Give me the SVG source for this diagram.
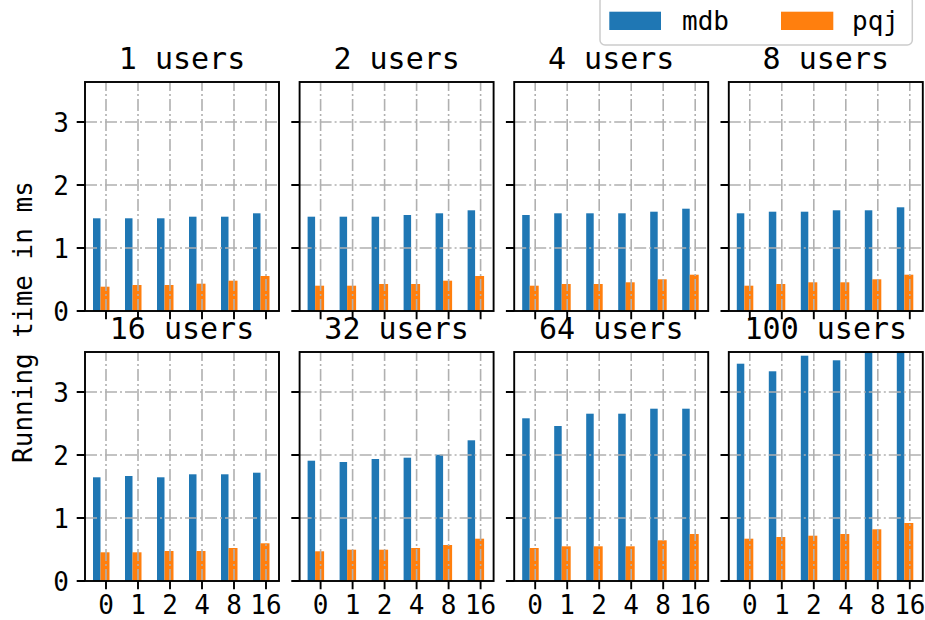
<svg xmlns="http://www.w3.org/2000/svg" width="925" height="620" viewBox="0 0 925 620">
<style>
text{font-family:"DejaVu Sans Mono",monospace;fill:#000}
.title{font-size:30px;text-anchor:middle}
.tl{font-size:26px}
.yl{text-anchor:end}
.xl{text-anchor:middle}
.bg{fill:#fff}
.mdb{fill:#1f77b4}
.pqj{fill:#ff7f0e}
.grid{fill:none;stroke:#b0b0b0;stroke-width:1.6;stroke-dasharray:12 3 2 3}
.frame{fill:none;stroke:#000;stroke-width:1.9}
.tick{fill:none;stroke:#000;stroke-width:1.9}
</style>
<rect width="925" height="620" fill="#fff"/>

<!-- 1 users -->
<g id="plot-1-users" transform="translate(85,82)">
<text class="title" x="97" y="-13.5">1 users</text>
<rect class="bg" width="194" height="229"/>
<rect class="mdb" x="8" y="136.3" width="7.5" height="92.7"/>
<rect class="mdb" x="40" y="136.3" width="7.5" height="92.7"/>
<rect class="mdb" x="72" y="136.3" width="7.5" height="92.7"/>
<rect class="mdb" x="104" y="134.7" width="7.5" height="94.3"/>
<rect class="mdb" x="136" y="134.7" width="7.5" height="94.3"/>
<rect class="mdb" x="168" y="131.3" width="7.5" height="97.7"/>
<rect class="pqj" x="15.5" y="204.7" width="9" height="24.3"/>
<rect class="pqj" x="47.5" y="203" width="9" height="26"/>
<rect class="pqj" x="79.5" y="203" width="9" height="26"/>
<rect class="pqj" x="111.5" y="201.7" width="9" height="27.3"/>
<rect class="pqj" x="143.5" y="198.7" width="9" height="30.3"/>
<rect class="pqj" x="175.5" y="194" width="9" height="35"/>
<path class="grid" d="M0 166H194M0 103H194M0 40H194M21 229V0M53 229V0M85 229V0M117 229V0M149 229V0M181 229V0"/>
<rect class="frame" width="194" height="229"/>
<path class="tick" d="M21 229v8.3M53 229v8.3M85 229v8.3M117 229v8.3M149 229v8.3M181 229v8.3M0 229h-8.3M0 166h-8.3M0 103h-8.3M0 40h-8.3"/>
<g class="tl yl">
<text x="-16" y="238.8">0</text>
<text x="-16" y="175.8">1</text>
<text x="-16" y="112.8">2</text>
<text x="-16" y="49.8">3</text>
</g>
</g>

<!-- 2 users -->
<g id="plot-2-users" transform="translate(299.6,82)">
<text class="title" x="97" y="-13.5">2 users</text>
<rect class="bg" width="194" height="229"/>
<rect class="mdb" x="8" y="134.7" width="7.5" height="94.3"/>
<rect class="mdb" x="40" y="134.7" width="7.5" height="94.3"/>
<rect class="mdb" x="72" y="134.7" width="7.5" height="94.3"/>
<rect class="mdb" x="104" y="133" width="7.5" height="96"/>
<rect class="mdb" x="136" y="131.3" width="7.5" height="97.7"/>
<rect class="mdb" x="168" y="128.3" width="7.5" height="100.7"/>
<rect class="pqj" x="15.5" y="203.7" width="9" height="25.3"/>
<rect class="pqj" x="47.5" y="203.7" width="9" height="25.3"/>
<rect class="pqj" x="79.5" y="202" width="9" height="27"/>
<rect class="pqj" x="111.5" y="202" width="9" height="27"/>
<rect class="pqj" x="143.5" y="198.7" width="9" height="30.3"/>
<rect class="pqj" x="175.5" y="194" width="9" height="35"/>
<path class="grid" d="M0 166H194M0 103H194M0 40H194M21 229V0M53 229V0M85 229V0M117 229V0M149 229V0M181 229V0"/>
<rect class="frame" width="194" height="229"/>
<path class="tick" d="M21 229v8.3M53 229v8.3M85 229v8.3M117 229v8.3M149 229v8.3M181 229v8.3M0 229h-8.3M0 166h-8.3M0 103h-8.3M0 40h-8.3"/>
</g>

<!-- 4 users -->
<g id="plot-4-users" transform="translate(514.2,82)">
<text class="title" x="97" y="-13.5">4 users</text>
<rect class="bg" width="194" height="229"/>
<rect class="mdb" x="8" y="133" width="7.5" height="96"/>
<rect class="mdb" x="40" y="131.3" width="7.5" height="97.7"/>
<rect class="mdb" x="72" y="131.3" width="7.5" height="97.7"/>
<rect class="mdb" x="104" y="131.3" width="7.5" height="97.7"/>
<rect class="mdb" x="136" y="129.7" width="7.5" height="99.3"/>
<rect class="mdb" x="168" y="126.7" width="7.5" height="102.3"/>
<rect class="pqj" x="15.5" y="203.7" width="9" height="25.3"/>
<rect class="pqj" x="47.5" y="202" width="9" height="27"/>
<rect class="pqj" x="79.5" y="202" width="9" height="27"/>
<rect class="pqj" x="111.5" y="200.3" width="9" height="28.7"/>
<rect class="pqj" x="143.5" y="197.3" width="9" height="31.7"/>
<rect class="pqj" x="175.5" y="192.7" width="9" height="36.3"/>
<path class="grid" d="M0 166H194M0 103H194M0 40H194M21 229V0M53 229V0M85 229V0M117 229V0M149 229V0M181 229V0"/>
<rect class="frame" width="194" height="229"/>
<path class="tick" d="M21 229v8.3M53 229v8.3M85 229v8.3M117 229v8.3M149 229v8.3M181 229v8.3M0 229h-8.3M0 166h-8.3M0 103h-8.3M0 40h-8.3"/>
</g>

<!-- 8 users -->
<g id="plot-8-users" transform="translate(728.8,82)">
<text class="title" x="97" y="-13.5">8 users</text>
<rect class="bg" width="194" height="229"/>
<rect class="mdb" x="8" y="131.3" width="7.5" height="97.7"/>
<rect class="mdb" x="40" y="129.7" width="7.5" height="99.3"/>
<rect class="mdb" x="72" y="129.7" width="7.5" height="99.3"/>
<rect class="mdb" x="104" y="128.3" width="7.5" height="100.7"/>
<rect class="mdb" x="136" y="128.3" width="7.5" height="100.7"/>
<rect class="mdb" x="168" y="125.3" width="7.5" height="103.7"/>
<rect class="pqj" x="15.5" y="203.7" width="9" height="25.3"/>
<rect class="pqj" x="47.5" y="202" width="9" height="27"/>
<rect class="pqj" x="79.5" y="200.3" width="9" height="28.7"/>
<rect class="pqj" x="111.5" y="200.3" width="9" height="28.7"/>
<rect class="pqj" x="143.5" y="197.3" width="9" height="31.7"/>
<rect class="pqj" x="175.5" y="192.7" width="9" height="36.3"/>
<path class="grid" d="M0 166H194M0 103H194M0 40H194M21 229V0M53 229V0M85 229V0M117 229V0M149 229V0M181 229V0"/>
<rect class="frame" width="194" height="229"/>
<path class="tick" d="M21 229v8.3M53 229v8.3M85 229v8.3M117 229v8.3M149 229v8.3M181 229v8.3M0 229h-8.3M0 166h-8.3M0 103h-8.3M0 40h-8.3"/>
</g>

<!-- 16 users -->
<g id="plot-16-users" transform="translate(85,352)">
<text class="title" x="97" y="-13">16 users</text>
<rect class="bg" width="194" height="229"/>
<rect class="mdb" x="8" y="125.3" width="7.5" height="103.7"/>
<rect class="mdb" x="40" y="124" width="7.5" height="105"/>
<rect class="mdb" x="72" y="125.3" width="7.5" height="103.7"/>
<rect class="mdb" x="104" y="122.3" width="7.5" height="106.7"/>
<rect class="mdb" x="136" y="122.3" width="7.5" height="106.7"/>
<rect class="mdb" x="168" y="120.7" width="7.5" height="108.3"/>
<rect class="pqj" x="15.5" y="200.3" width="9" height="28.7"/>
<rect class="pqj" x="47.5" y="200.3" width="9" height="28.7"/>
<rect class="pqj" x="79.5" y="199" width="9" height="30"/>
<rect class="pqj" x="111.5" y="199" width="9" height="30"/>
<rect class="pqj" x="143.5" y="196" width="9" height="33"/>
<rect class="pqj" x="175.5" y="191.3" width="9" height="37.7"/>
<path class="grid" d="M0 166H194M0 103H194M0 40H194M21 229V0M53 229V0M85 229V0M117 229V0M149 229V0M181 229V0"/>
<rect class="frame" width="194" height="229"/>
<path class="tick" d="M21 229v8.3M53 229v8.3M85 229v8.3M117 229v8.3M149 229v8.3M181 229v8.3M0 229h-8.3M0 166h-8.3M0 103h-8.3M0 40h-8.3"/>
<g class="tl yl">
<text x="-16" y="238.8">0</text>
<text x="-16" y="175.8">1</text>
<text x="-16" y="112.8">2</text>
<text x="-16" y="49.8">3</text>
</g>
<g class="tl xl">
<text x="21" y="262">0</text>
<text x="53" y="262">1</text>
<text x="85" y="262">2</text>
<text x="117" y="262">4</text>
<text x="149" y="262">8</text>
<text x="181" y="262">16</text>
</g>
</g>

<!-- 32 users -->
<g id="plot-32-users" transform="translate(299.6,352)">
<text class="title" x="97" y="-13">32 users</text>
<rect class="bg" width="194" height="229"/>
<rect class="mdb" x="8" y="108.7" width="7.5" height="120.3"/>
<rect class="mdb" x="40" y="110" width="7.5" height="119"/>
<rect class="mdb" x="72" y="107" width="7.5" height="122"/>
<rect class="mdb" x="104" y="105.7" width="7.5" height="123.3"/>
<rect class="mdb" x="136" y="102.7" width="7.5" height="126.3"/>
<rect class="mdb" x="168" y="88.3" width="7.5" height="140.7"/>
<rect class="pqj" x="15.5" y="199.3" width="9" height="29.7"/>
<rect class="pqj" x="47.5" y="197.7" width="9" height="31.3"/>
<rect class="pqj" x="79.5" y="197.7" width="9" height="31.3"/>
<rect class="pqj" x="111.5" y="196" width="9" height="33"/>
<rect class="pqj" x="143.5" y="193" width="9" height="36"/>
<rect class="pqj" x="175.5" y="186.7" width="9" height="42.3"/>
<path class="grid" d="M0 166H194M0 103H194M0 40H194M21 229V0M53 229V0M85 229V0M117 229V0M149 229V0M181 229V0"/>
<rect class="frame" width="194" height="229"/>
<path class="tick" d="M21 229v8.3M53 229v8.3M85 229v8.3M117 229v8.3M149 229v8.3M181 229v8.3M0 229h-8.3M0 166h-8.3M0 103h-8.3M0 40h-8.3"/>
<g class="tl xl">
<text x="21" y="262">0</text>
<text x="53" y="262">1</text>
<text x="85" y="262">2</text>
<text x="117" y="262">4</text>
<text x="149" y="262">8</text>
<text x="181" y="262">16</text>
</g>
</g>

<!-- 64 users -->
<g id="plot-64-users" transform="translate(514.2,352)">
<text class="title" x="97" y="-13">64 users</text>
<rect class="bg" width="194" height="229"/>
<rect class="mdb" x="8" y="66.3" width="7.5" height="162.7"/>
<rect class="mdb" x="40" y="74" width="7.5" height="155"/>
<rect class="mdb" x="72" y="61.7" width="7.5" height="167.3"/>
<rect class="mdb" x="104" y="61.7" width="7.5" height="167.3"/>
<rect class="mdb" x="136" y="56.7" width="7.5" height="172.3"/>
<rect class="mdb" x="168" y="56.7" width="7.5" height="172.3"/>
<rect class="pqj" x="15.5" y="196" width="9" height="33"/>
<rect class="pqj" x="47.5" y="194.3" width="9" height="34.7"/>
<rect class="pqj" x="79.5" y="194.3" width="9" height="34.7"/>
<rect class="pqj" x="111.5" y="194.3" width="9" height="34.7"/>
<rect class="pqj" x="143.5" y="188.3" width="9" height="40.7"/>
<rect class="pqj" x="175.5" y="182" width="9" height="47"/>
<path class="grid" d="M0 166H194M0 103H194M0 40H194M21 229V0M53 229V0M85 229V0M117 229V0M149 229V0M181 229V0"/>
<rect class="frame" width="194" height="229"/>
<path class="tick" d="M21 229v8.3M53 229v8.3M85 229v8.3M117 229v8.3M149 229v8.3M181 229v8.3M0 229h-8.3M0 166h-8.3M0 103h-8.3M0 40h-8.3"/>
<g class="tl xl">
<text x="21" y="262">0</text>
<text x="53" y="262">1</text>
<text x="85" y="262">2</text>
<text x="117" y="262">4</text>
<text x="149" y="262">8</text>
<text x="181" y="262">16</text>
</g>
</g>

<!-- 100 users -->
<g id="plot-100-users" transform="translate(728.8,352)">
<text class="title" x="97" y="-13">100 users</text>
<rect class="bg" width="194" height="229"/>
<rect class="mdb" x="8" y="11.7" width="7.5" height="217.3"/>
<rect class="mdb" x="40" y="19.3" width="7.5" height="209.7"/>
<rect class="mdb" x="72" y="3.7" width="7.5" height="225.3"/>
<rect class="mdb" x="104" y="8.3" width="7.5" height="220.7"/>
<rect class="mdb" x="136" y="0" width="7.5" height="229"/>
<rect class="mdb" x="168" y="0" width="7.5" height="229"/>
<rect class="pqj" x="15.5" y="186.7" width="9" height="42.3"/>
<rect class="pqj" x="47.5" y="185" width="9" height="44"/>
<rect class="pqj" x="79.5" y="183.7" width="9" height="45.3"/>
<rect class="pqj" x="111.5" y="182" width="9" height="47"/>
<rect class="pqj" x="143.5" y="177.3" width="9" height="51.7"/>
<rect class="pqj" x="175.5" y="171" width="9" height="58"/>
<path class="grid" d="M0 166H194M0 103H194M0 40H194M21 229V0M53 229V0M85 229V0M117 229V0M149 229V0M181 229V0"/>
<rect class="frame" width="194" height="229"/>
<path class="tick" d="M21 229v8.3M53 229v8.3M85 229v8.3M117 229v8.3M149 229v8.3M181 229v8.3M0 229h-8.3M0 166h-8.3M0 103h-8.3M0 40h-8.3"/>
<g class="tl xl">
<text x="21" y="262">0</text>
<text x="53" y="262">1</text>
<text x="85" y="262">2</text>
<text x="117" y="262">4</text>
<text x="149" y="262">8</text>
<text x="181" y="262">16</text>
</g>
</g>

<!-- y axis label -->
<g id="ylabel">
<text class="tl" transform="translate(31.5,322) rotate(-90)" text-anchor="middle">Running time in ms</text>
</g>

<!-- legend -->
<g id="legend">
<rect x="600" y="-4" width="312.3" height="49" rx="5" fill="#fff" fill-opacity="0.8" stroke="#cccccc" stroke-width="1.5"/>
<rect class="mdb" x="609.3" y="11.7" width="51.7" height="18.3"/>
<text class="tl" x="682" y="30">mdb</text>
<rect class="pqj" x="781" y="11.7" width="52.3" height="18.3"/>
<text class="tl" x="852" y="30">pqj</text>
</g>

<g id="connectors"></g>
</svg>
